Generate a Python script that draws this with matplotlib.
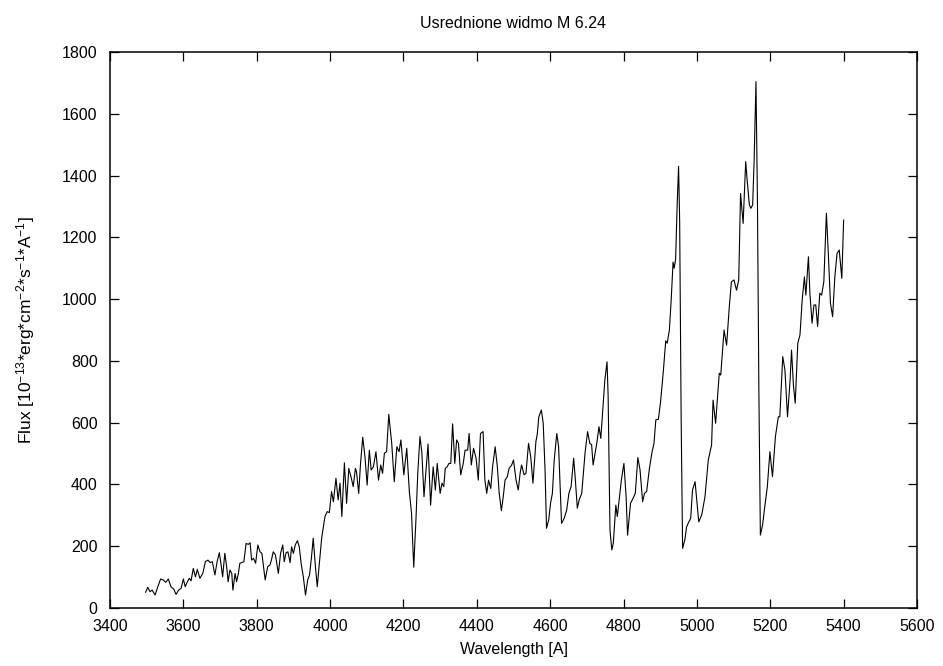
import matplotlib
matplotlib.use("Agg")
import matplotlib.pyplot as plt

plt.rcParams['font.family'] = ['Liberation Sans', 'DejaVu Sans']
plt.rcParams['mathtext.fontset'] = 'custom'
plt.rcParams['mathtext.rm'] = 'Liberation Sans'
plt.rcParams['mathtext.default'] = 'regular'

title = "Usrednione widmo M 6.24"
xlabel = "Wavelength [A]"
ylabel = r"Flux [10$^{-13}$*erg*cm$^{-2}$*s$^{-1}$*A$^{-1}$]"
xticks = [3400, 3600, 3800, 4000, 4200, 4400, 4600, 4800, 5000, 5200, 5400, 5600]
yticks = [0, 200, 400, 600, 800, 1000, 1200, 1400, 1600, 1800]

wavelength = [
    3497, 3503, 3509, 3515, 3523, 3529, 3538, 3545, 3552, 3559, 3566, 3574, 3580, 3587, 3594,
    3600, 3605, 3611, 3616, 3621, 3627, 3633, 3638, 3645, 3653, 3660, 3667, 3673, 3679, 3686,
    3692, 3698, 3703, 3707, 3713, 3718, 3722, 3727, 3732, 3735, 3741, 3745, 3750, 3754, 3760,
    3765, 3771, 3777, 3782, 3786, 3791, 3797, 3803, 3809, 3814, 3823, 3830, 3836, 3840, 3845,
    3851, 3859, 3865, 3871, 3875, 3880, 3885, 3891, 3895, 3900, 3905, 3911, 3916, 3921, 3927,
    3933, 3939, 3944, 3949, 3954, 3960, 3965,
    3977, 3986, 3992, 3998, 4004, 4009, 4016, 4022, 4027, 4032, 4039, 4045, 4051, 4057, 4063,
    4069, 4072, 4078, 4083, 4089, 4095, 4101, 4107, 4112, 4118, 4125, 4132, 4138, 4143, 4148,
    4154, 4160, 4168, 4175, 4182, 4188, 4193, 4201, 4209, 4216, 4222, 4228, 4234, 4239, 4245,
    4250, 4256, 4261, 4267, 4274, 4281, 4287, 4292, 4300, 4305, 4310, 4314, 4319, 4324, 4329,
    4334, 4340, 4345, 4350, 4356, 4363, 4368, 4375, 4379, 4385, 4391, 4398, 4404, 4410, 4417,
    4422, 4427, 4432, 4438, 4443, 4450, 4456, 4461, 4467, 4472, 4477, 4483, 4488, 4495, 4500,
    4507, 4513, 4518,
    4522, 4529, 4534, 4541, 4547, 4553, 4561, 4565, 4569, 4576, 4581, 4586, 4590, 4596, 4601,
    4606, 4611, 4618, 4623, 4631, 4638, 4645, 4651, 4657, 4664, 4668, 4674, 4679, 4686, 4695,
    4702, 4708, 4713, 4717, 4727, 4733, 4738, 4745, 4749, 4755, 4758, 4763, 4768, 4772, 4779,
    4783, 4794, 4801, 4807, 4811, 4819, 4826, 4832, 4839, 4845, 4852, 4857, 4863, 4870, 4877,
    4883, 4888, 4895, 4901, 4908, 4915, 4919, 4925, 4930, 4935, 4938, 4942, 4946, 4950, 4953,
    4957, 4961, 4967, 4972, 4978,
    4983, 4988, 4995, 5005, 5013, 5022, 5031, 5040, 5044, 5051, 5061, 5065, 5074, 5081, 5088,
    5094, 5101, 5108, 5114, 5119, 5126, 5133, 5137, 5143, 5147, 5152, 5156, 5161, 5165, 5169,
    5173, 5179, 5185, 5192, 5199, 5206, 5214, 5222, 5226, 5234, 5240, 5247, 5254, 5258, 5263,
    5268, 5275, 5281, 5287, 5293, 5297, 5304, 5308, 5314, 5319, 5324, 5329, 5335, 5340, 5346,
    5353, 5359, 5364, 5370, 5376, 5382, 5388, 5395, 5400,
]

flux = [
    51, 67, 53, 58, 42, 64, 94, 91, 83, 94, 69, 61, 44, 58, 64,
    94, 69, 85, 96, 88, 128, 101, 125, 96, 112, 150, 155, 147, 150, 107,
    150, 179, 139, 101, 177, 134, 85, 123, 112, 58, 112, 85, 112, 145, 147,
    150, 209, 206, 211, 155, 161, 145, 204, 182, 177, 91, 134, 139, 155, 182,
    172, 112, 177, 204, 150, 179, 182, 147, 198, 177, 204, 218, 198, 145, 101,
    42, 91, 107, 161, 226, 134, 69,
    226, 296, 312, 309, 377, 344, 420, 350, 404, 296, 470, 339, 452, 425, 393,
    452, 441, 371, 468, 553, 490, 398, 511, 447, 457, 506, 414, 463, 436, 501,
    506, 627, 533, 409, 522, 506, 544, 431, 517, 377, 307, 132, 285, 436, 555,
    506, 360, 436, 531, 333, 457, 382, 468, 371, 404, 393, 452, 457, 468, 468,
    596, 468, 544, 533, 431, 468, 511, 511, 565, 463, 517, 485, 414, 565, 571,
    414, 371, 414, 387, 457, 522, 457, 371, 315, 360, 414, 425, 452, 463, 479,
    414, 382, 436,
    463, 431, 436, 533, 490, 404, 538, 565, 619, 641, 598, 447, 258, 285, 339,
    371, 479, 565, 522, 274, 290, 317, 371, 393, 485, 425, 323, 350, 371, 501,
    571, 533, 528, 463, 533, 587, 549, 668, 738, 797, 684, 252, 188, 209, 333,
    296, 414, 468, 360, 236, 339, 355, 371, 487, 447, 344, 371, 377, 447, 501,
    533, 609, 611, 668, 760, 865, 857, 900, 1000, 1120, 1100, 1130, 1300, 1430, 1250,
    620, 193, 220, 263, 279,
    290, 382, 409, 279, 301, 360, 479, 528, 673, 598, 760, 754, 900, 851, 970,
    1056, 1062, 1029, 1062, 1342, 1245, 1445, 1385, 1305, 1294, 1305, 1450, 1704, 1321, 695,
    236, 269, 328, 393, 506, 425, 555, 619, 619, 814, 770, 619, 738, 835, 722,
    663, 857, 884, 997, 1072, 1013, 1137, 1019, 922, 981, 981, 911, 1019, 1013, 1056,
    1278, 1127, 987, 943, 1072, 1148, 1159, 1067, 1256,
]

fig = plt.figure(figsize=(9.43, 6.66), dpi=100)
ax = fig.add_axes([110 / 943, 1 - 608 / 666, (917 - 110) / 943, (608 - 52) / 666])
ax.plot(wavelength, flux, color='black', linewidth=0.8)

ax.set_xlim(3400, 5600)
ax.set_ylim(0, 1800)
ax.set_xticks(xticks)
ax.set_yticks(yticks)
ax.tick_params(direction='in', length=6.5, width=0.9, top=True, right=True,
               labelsize=11.5)
ax.tick_params(axis='x', pad=8)
ax.tick_params(axis='y', pad=9)
for s in ax.spines.values():
    s.set_linewidth(1.1)

ax.set_title(title, fontsize=11.5, pad=17)
ax.set_xlabel(xlabel, fontsize=11.5, labelpad=6)
ax.set_ylabel(ylabel, fontsize=12.5, labelpad=18)

fig.savefig("out.png", dpi=100)
